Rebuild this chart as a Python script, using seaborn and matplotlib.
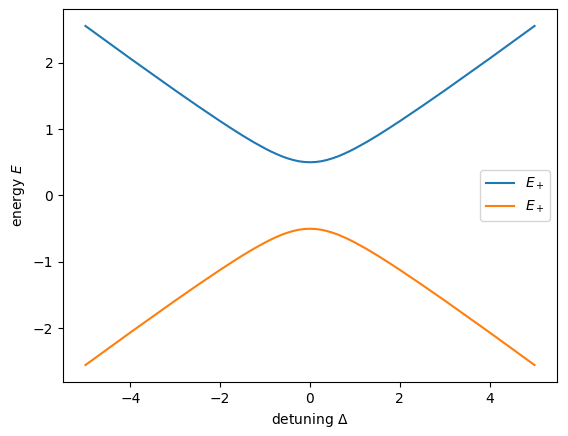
import pandas as pd
import matplotlib.pyplot as plt
import seaborn as sns

# values
detuning = [-5, -4.5, -4, -3.5, -3, -2.5, -2, -1.75, -1.5, -1.25, -1, -0.875, -0.75, -0.625, -0.5,
            -0.375, -0.25, -0.125, 0, 0.125, 0.25, 0.375, 0.5, 0.625, 0.75, 0.875, 1, 1.25, 1.5,
            1.75, 2, 2.5, 3, 3.5, 4, 4.5, 5]
e_upper = [2.55, 2.305, 2.06, 1.82, 1.58, 1.346, 1.118, 1.008, 0.901, 0.80, 0.707, 0.664, 0.625, 0.589, 0.559,
           0.534, 0.515, 0.504, 0.50, 0.504, 0.515, 0.534, 0.559, 0.589, 0.625, 0.664, 0.707, 0.80, 0.901,
           1.008, 1.118, 1.346, 1.58, 1.82, 2.06, 2.305, 2.55]
e_lower = [-v for v in e_upper]

df = pd.DataFrame({'delta': detuning, 'up': e_upper, 'low': e_lower})

fig = plt.figure(figsize=(5.68, 4.36), dpi=100)
ax = fig.add_axes([63 / 568, 54 / 436, 494 / 568, 373 / 436])

sns.lineplot(data=df, x='delta', y='up', ax=ax, color='#1f77b4', label='$E_+$')
sns.lineplot(data=df, x='delta', y='low', ax=ax, color='#ff7f0e', label='$E_+$')

ax.set_xlabel(r'detuning $\Delta$')
ax.set_ylabel('energy $E$')
ax.legend(loc='center right')

fig.savefig('out.png', dpi=100)
